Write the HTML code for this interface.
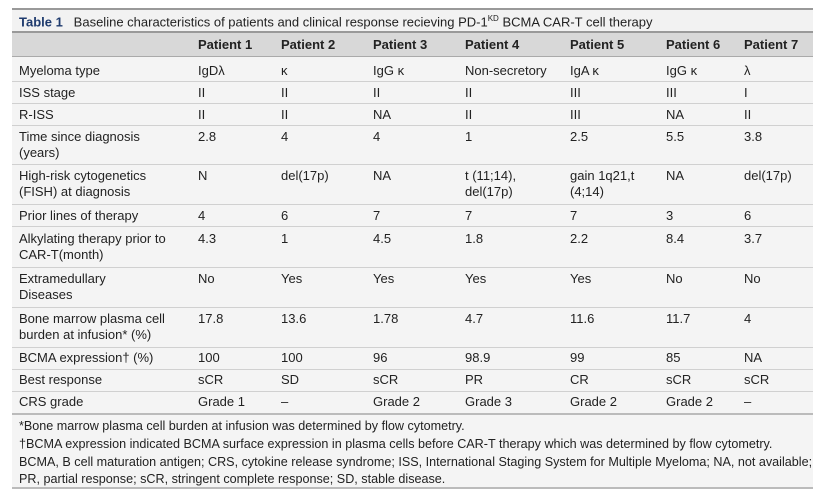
<!DOCTYPE html>
<html><head><meta charset="utf-8"><style>
body{margin:0;width:828px;height:496px;background:#fff;font-family:"Liberation Sans",sans-serif;color:#222;font-size:13px;position:relative;overflow:hidden}
.t{position:absolute;left:12px;width:801px;top:8px;height:481px;background:#f4f4f4;border-top:2px solid #999;border-bottom:2px solid #bbb;box-sizing:border-box}
.ttl{position:absolute;left:12px;width:801px;top:10px;height:23px;background:#f2f2f2;border-bottom:2px solid #999;box-sizing:border-box}
.hd{position:absolute;left:12px;width:801px;top:33px;height:24px;background:#d8d8d8;border-bottom:1px solid #aaa;box-sizing:border-box}
.ln{position:absolute;left:12px;width:801px;height:1px;background:#d0d0d0}
.c{position:absolute;white-space:nowrap;line-height:16px}
.b{font-weight:bold}
.f{position:absolute;left:19px;font-size:12.6px;line-height:18px;white-space:nowrap}
</style></head><body>
<div class="t"></div><div class="ttl"></div><div class="hd"></div>
<div class="c" style="left:19px;top:11px"><b style="color:#1f3b6e">Table 1</b>&nbsp;&nbsp;&nbsp;Baseline characteristics of patients and clinical response recieving PD-1<sup style="font-size:8px">KD</sup> BCMA CAR-T cell therapy</div>
<div class="c b" style="left:198px;top:37px">Patient 1</div>
<div class="c b" style="left:281px;top:37px">Patient 2</div>
<div class="c b" style="left:373px;top:37px">Patient 3</div>
<div class="c b" style="left:465px;top:37px">Patient 4</div>
<div class="c b" style="left:570px;top:37px">Patient 5</div>
<div class="c b" style="left:666px;top:37px">Patient 6</div>
<div class="c b" style="left:744px;top:37px">Patient 7</div>
<div class="ln" style="top:81px"></div><div class="ln" style="top:103px"></div><div class="ln" style="top:125px"></div>
<div class="ln" style="top:164px"></div><div class="ln" style="top:204px"></div><div class="ln" style="top:226px"></div>
<div class="ln" style="top:267px"></div><div class="ln" style="top:307px"></div><div class="ln" style="top:347px"></div>
<div class="ln" style="top:369px"></div><div class="ln" style="top:391px"></div><div class="ln" style="top:413px;height:2px;background:#bbb"></div>
<div id="rows"></div>
<script>
var X=[19,198,281,373,465,570,666,744];
var R=[
[63,["Myeloma type","IgDλ","κ","IgG κ","Non-secretory","IgA κ","IgG κ","λ"]],
[85,["ISS stage","II","II","II","II","III","III","I"]],
[107,["R-ISS","II","II","NA","II","III","NA","II"]],
[129,["Time since diagnosis<br>(years)","2.8","4","4","1","2.5","5.5","3.8"]],
[168,["High-risk cytogenetics<br>(FISH) at diagnosis","N","del(17p)","NA","t (11;14),<br>del(17p)","gain 1q21,t<br>(4;14)","NA","del(17p)"]],
[208,["Prior lines of therapy","4","6","7","7","7","3","6"]],
[231,["Alkylating therapy prior to<br>CAR-T(month)","4.3","1","4.5","1.8","2.2","8.4","3.7"]],
[271,["Extramedullary<br>Diseases","No","Yes","Yes","Yes","Yes","No","No"]],
[311,["Bone marrow plasma cell<br>burden at infusion* (%)","17.8","13.6","1.78","4.7","11.6","11.7","4"]],
[350,["BCMA expression† (%)","100","100","96","98.9","99","85","NA"]],
[372,["Best response","sCR","SD","sCR","PR","CR","sCR","sCR"]],
[394,["CRS grade","Grade 1","–","Grade 2","Grade 3","Grade 2","Grade 2","–"]]];
var h="";R.forEach(function(r){r[1].forEach(function(t,i){h+='<div class="c" style="left:'+X[i]+'px;top:'+r[0]+'px">'+t+'</div>';});});
document.getElementById("rows").innerHTML=h;
</script>
<div class="f" style="top:417px">*Bone marrow plasma cell burden at infusion was determined by flow cytometry.</div>
<div class="f" style="top:435px">†BCMA expression indicated BCMA surface expression in plasma cells before CAR-T therapy which was determined by flow cytometry.</div>
<div class="f" style="top:453px">BCMA, B cell maturation antigen; CRS, cytokine release syndrome; ISS, International Staging System for Multiple Myeloma; NA, not available;</div>
<div class="f" style="top:470px">PR, partial response; sCR, stringent complete response; SD, stable disease.</div>
</body></html>
